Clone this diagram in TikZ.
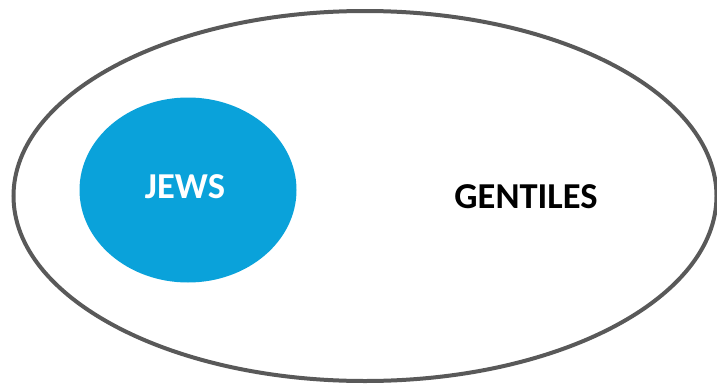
\documentclass[tikz,border=0pt]{standalone}
\usepackage{fontspec}
\setmainfont{Carlito}
\usepackage{tikz}
\usetikzlibrary{shapes.geometric}
\definecolor{ringgray}{HTML}{595959}
\definecolor{jewsblue}{HTML}{0AA2DA}
\tikzstyle{set_outer} = [ellipse, draw=ringgray, line width=4pt, inner sep=0pt, minimum width=703pt, minimum height=370pt]
\tikzstyle{set_inner} = [ellipse, fill=jewsblue, inner sep=0pt, minimum width=217pt, minimum height=185pt]
\tikzstyle{label_normal} = [font=\fontsize{36.5}{42}\selectfont\bfseries, inner sep=0pt]

\begin{document}
\begin{tikzpicture}[x=1pt,y=-1pt]
			\useasboundingbox (0,0) rectangle (717,383);
			\node (G) at (365,196) [set_outer] {};
			\node (J) at (188,190) [set_inner] {};
			\node (JL) at (185,187) [label_normal, text=white] {JEWS};
			\node (GL) at (526,197) [label_normal] {GENTILES};
		\end{tikzpicture}
\end{document}
